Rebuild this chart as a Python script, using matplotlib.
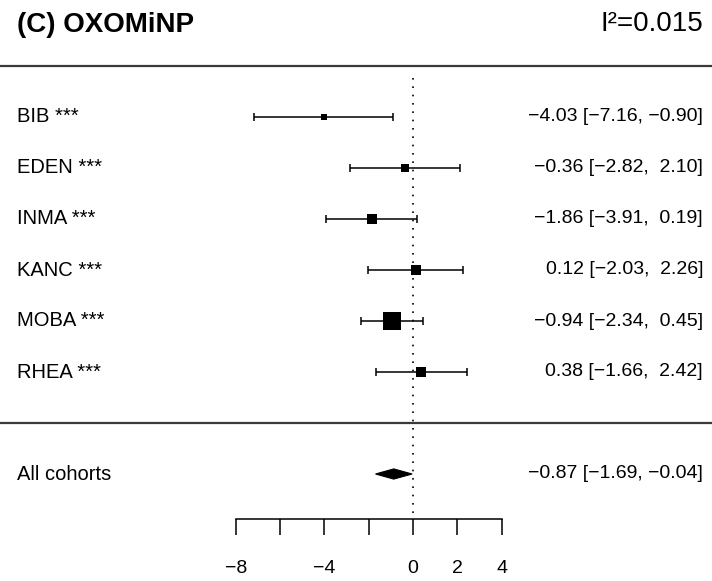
import numpy as np
import matplotlib
matplotlib.use("Agg")
import matplotlib.pyplot as plt
import matplotlib.transforms as mtransforms
from matplotlib.patches import Polygon

plt.rcParams['font.family'] = ['Liberation Sans', 'DejaVu Sans']

# data
cohorts = ['BIB', 'EDEN', 'INMA', 'KANC', 'MOBA', 'RHEA']
stars = ['***', '***', '***', '***', '***', '***']
est = [-4.03, -0.36, -1.86, 0.12, -0.94, 0.38]
ci_lo = [-7.16, -2.82, -3.91, -2.03, -2.34, -1.66]
ci_hi = [-0.90, 2.10, 0.19, 2.26, 0.45, 2.42]
pooled = [-0.87, -1.69, -0.04]   # estimate, lower, upper
title = '(C) OXOMiNP'
i2 = 0.015
xticks = [-8, -6, -4, -2, 0, 2, 4]
xticklabels = ['−8', '', '−4', '', '0', '2', '4']

W, H = 712, 581
fig = plt.figure(figsize=(W / 100, H / 100), dpi=100)
ax = fig.add_axes([0, 0, 1, 1])

# pixel layout -> data limits
px_per_x = 22.17
x0_px = 413.0
row0_px, row_px = 117, 51
ax.set_xlim(-x0_px / px_per_x, (W - x0_px) / px_per_x)
ax.set_ylim((H - row0_px) / row_px, -row0_px / row_px)

k = len(cohorts)
rows = np.arange(k)
pool_row = k + 1

# box sizes ~ sqrt of inverse-variance weights, scaled 0.5..1.5
se = (np.array(ci_hi) - np.array(ci_lo)) / 3.92
w = np.sqrt(1 / se ** 2)
psize = (w - w.min()) / (w.max() - w.min()) + 0.5
box_px = 11.5 * psize

fs_lab = 14.5
fs_num = 14
blend = mtransforms.blended_transform_factory(ax.transAxes, ax.transData)

def fmt(v):
    return f'{v:5.2f}'.replace('-', '−')

for r, name, st, m, lo, hi, s in zip(rows, cohorts, stars, est, ci_lo, ci_hi, box_px):
    ax.hlines(r, lo, hi, color='black', lw=1.1)
    ax.vlines([lo, hi], r - 0.07, r + 0.07, color='black', lw=1.1)
    ax.plot(m, r, marker='s', ms=s * 0.72, color='black', mec='black', mew=0)
    ax.text(17 / W, r, f'{name} {st}', transform=blend, ha='left', va='center', fontsize=fs_lab)
    ax.text(703 / W, r, f'{fmt(m)} [{fmt(lo)}, {fmt(hi)}]'.strip(), transform=blend,
            ha='right', va='center', fontsize=fs_num)

# pooled diamond
pm, plo, phi = pooled
dh = 0.1
ax.add_patch(Polygon([(plo, pool_row), (pm, pool_row - dh), (phi, pool_row), (pm, pool_row + dh)],
                     closed=True, facecolor='black', edgecolor='black', lw=0.8))
ax.text(17 / W, pool_row, 'All cohorts', transform=blend, ha='left', va='center', fontsize=fs_lab)
ax.text(703 / W, pool_row, f'{fmt(pm)} [{fmt(plo)}, {fmt(phi)}]'.strip(), transform=blend,
        ha='right', va='center', fontsize=fs_num)

# separators and reference line
ax.axhline(-1, color='#3a3a3a', lw=1.6)
ax.axhline(k, color='#3a3a3a', lw=1.6)
axis_row = (519 - row0_px) / row_px
ax.vlines(0, -0.76, axis_row, color='black', lw=1.2, linestyles=(0, (1, 4)))

# x axis
for side in ['top', 'left', 'right']:
    ax.spines[side].set_visible(False)
ax.spines['bottom'].set_position(('data', axis_row))
ax.spines['bottom'].set_bounds(xticks[0], xticks[-1])
ax.spines['bottom'].set_linewidth(1.1)
ax.set_yticks([])
ax.set_xticks(xticks)
ax.set_xticklabels(xticklabels, fontsize=fs_num)
ax.tick_params(axis='x', direction='out', length=11.5, width=1.1, pad=18)

# header
fig.text(17 / W, 1 - 25 / H, title, ha='left', va='center', fontsize=20, fontweight='bold')
fig.text(703 / W, 1 - 24 / H, f'I²={i2}', ha='right', va='center', fontsize=20)

fig.savefig('out.png', dpi=100)
